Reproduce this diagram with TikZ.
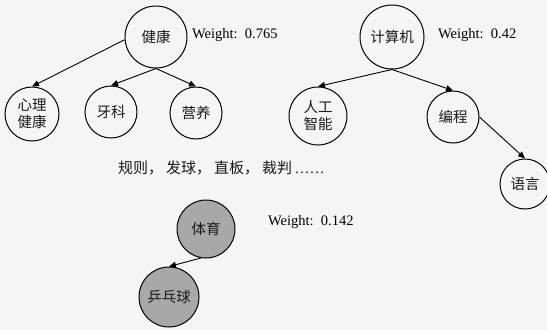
\documentclass[tikz,border=0pt]{standalone}
\usepackage{fontspec}
\setmainfont{Liberation Serif}
\newfontfamily\cjk{Noto Sans CJK SC}
\usetikzlibrary{arrows.meta}
\definecolor{bg}{HTML}{F5F5F5}
\definecolor{shade}{HTML}{A8A8A8}
\tikzset{
  concept/.style={circle, draw=black, line width=1pt, minimum size=#1, inner sep=0pt, font=\cjk\fontsize{14.5}{17}\selectfont, align=center, text=black!90},
  concept/.default=52pt,
  hot/.style={fill=shade},
  link/.style={line width=0.9pt, -{Triangle[length=7pt,width=6pt]}},
  wlabel/.style={font=\fontsize{14.5}{16}\selectfont, anchor=west, inner sep=0pt}
}
\begin{document}
\begin{tikzpicture}[x=1pt,y=-1pt]
\fill[bg] (0,0) rectangle (547,330);
\useasboundingbox (0,0) rectangle (547,330);
% tree 1
\node[concept=62pt] (jk) at (156,37) {健康};
\node[wlabel] (w1) at (192,35) {Weight:\ \ 0.765};
\node[concept=54pt] (xl) at (32,114) {心理\\健康};
\node[concept=52pt] (yk) at (111,112) {牙科};
\node[concept=52pt] (yy) at (196,113) {营养};
\draw[link] (jk.185) -- (xl.north);
\draw[link] (jk.south) -- (yk.north);
\draw[link] (jk.south) -- (yy.north);
% tree 2
\node[concept=64pt] (jsj) at (392,37) {计算机};
\node[wlabel] (w2) at (438,35) {Weight:\ \ 0.42};
\node[concept=58pt] (rg) at (318,116) {人工\\智能};
\node[concept=52pt] (bc) at (453,117) {编程};
\node[concept=50pt] (yu) at (525,184) {语言};
\draw[link] (jsj.south) -- (rg.north);
\draw[link] (jsj.south) -- (bc.north);
\draw[link] (bc.east) -- (yu.north);
% keywords
\node[font=\cjk\fontsize{15}{17}\selectfont, anchor=west, inner sep=0pt, text=black!90] (kw) at (118,168) {规则，\hspace{3pt}发球，\hspace{3pt}直板，\hspace{3pt}裁判{\rmfamily\,……}};
% tree 3
\node[concept=58pt, hot] (ty) at (206,229) {体育};
\node[wlabel] (w3) at (268,222) {Weight:\ \ 0.142};
\node[concept=60pt, hot] (ppq) at (169,297) {乒乓球};
\draw[link] (ty.260) -- (ppq.north);
\end{tikzpicture}
\end{document}
